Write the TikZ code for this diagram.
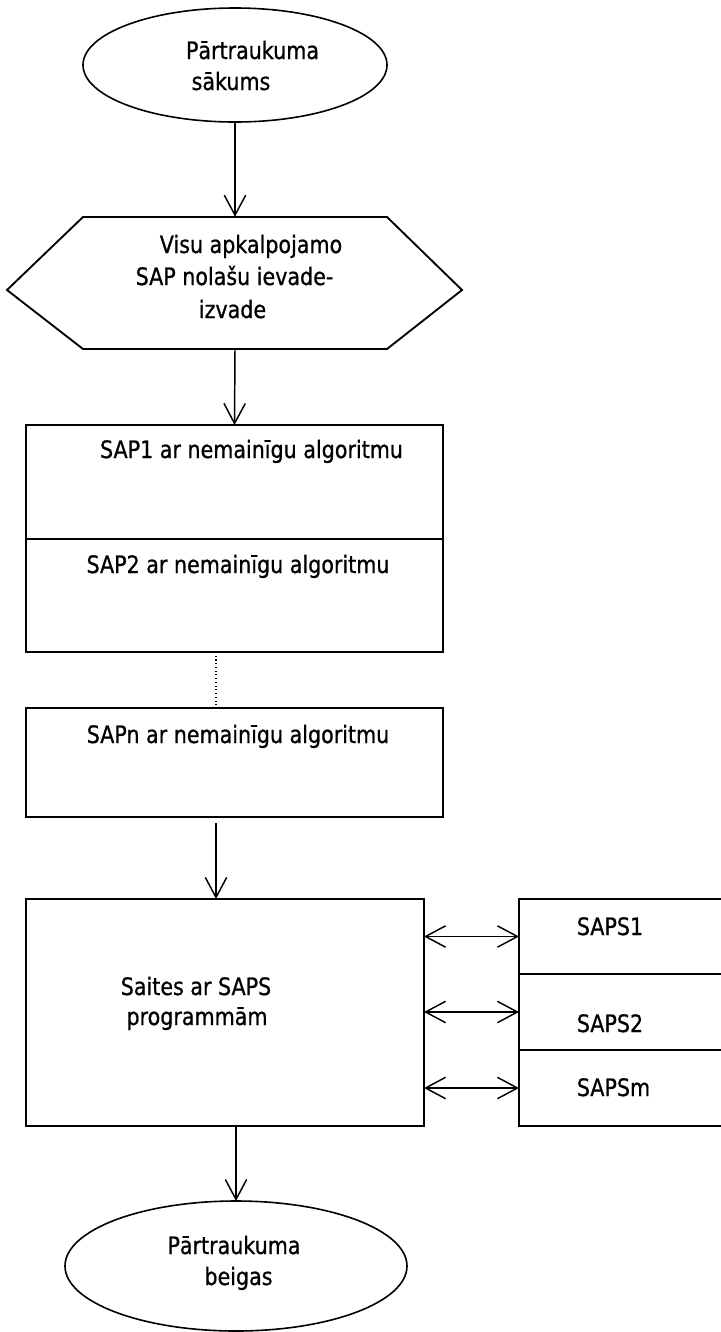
\documentclass[tikz,border=0pt]{standalone}
\usepackage{fontspec}
\setmainfont{DejaVu Sans}[FakeStretch=0.86,FakeBold=0.8]
\usepackage{tikz}
\usetikzlibrary{arrows.meta,shapes.geometric}

\begin{document}
\begin{tikzpicture}[x=0.75pt,y=-0.75pt,
  >={Straight Barb[length=15pt,width=16pt]},
  blok/.style 2 args={draw,line width=1.4pt,inner sep=0pt,outer sep=0pt,
    minimum width=#1*0.75pt,minimum height=#2*0.75pt},
  ovals/.style 2 args={blok={#1}{#2},ellipse,line width=1.2pt},
  txt/.style={anchor=base,inner sep=0pt,font=\fontsize{18pt}{23pt}\selectfont},
  bulta/.style={->,line width=1.1pt}]
\clip (0,0) rectangle (721,1332);
% start and end
\node[ovals={304}{114}] (start) at (235,65) {};
\node[ovals={342}{130}] (beigas) at (236,1266) {};
% input-output hexagon
\draw[line width=1.4pt] (83,217)--(387,217)--(462,290)--(387,349)--(83,349)--(7,290)--cycle;
\node[minimum width=455*0.75pt,minimum height=132*0.75pt,inner sep=0pt] (io) at (235,283) {};
% SAP blocks
\node[blok={417}{114}] (sap1) at (234.5,482) {};
\node[blok={417}{113}] (sap2) at (234.5,595.5) {};
\node[blok={417}{109}] (sapn) at (234.5,762.5) {};
\node[blok={398}{227}] (saites) at (225,1012.5) {};
\node[blok={212}{75}] (saps1) at (625,936.5) {};
\node[blok={212}{76}] (saps2) at (625,1012) {};
\node[blok={212}{76}] (sapsm) at (625,1088) {};
\coordinate (kol) at (216,0);
% connectors
\draw[bulta] (start.south)--(io.north);
\draw[bulta] (io.south)--(sap1.north);
\draw[dotted,line width=0.8pt] (sap2.south -| kol)--(sapn.north -| kol);
\draw[bulta,shorten <=4.5pt] (sapn.south -| kol)--(saites.north -| kol);
\draw[bulta] (saites.south -| beigas)--(beigas.north);
\foreach \s in {saps1,saps2,sapsm}
  \draw[<->,line width=1.1pt] (\s.west -| saites.east)--(\s.west);
% texts
\node[txt] (t1) at (252.5,59) {Pārtraukuma};
\node[txt] (t2) at (231,90) {sākums};
\node[txt] (t3) at (251,253) {Visu apkalpojamo};
\node[txt] (t4) at (234.5,285) {SAP nolašu ievade-};
\node[txt] (t5) at (232.5,318) {izvade};
\node[txt] (t6) at (251.5,458) {SAP1 ar nemainīgu algoritmu};
\node[txt] (t7) at (238,573) {SAP2 ar nemainīgu algoritmu};
\node[txt] (t8) at (238,743) {SAPn ar nemainīgu algoritmu};
\node[txt] (t9) at (196,995) {Saites ar SAPS};
\node[txt] (t10) at (197,1025) {programmām};
\node[txt] (t11) at (610,935) {SAPS1};
\node[txt] (t12) at (610,1032) {SAPS2};
\node[txt] (t13) at (613.5,1096) {SAPSm};
\node[txt] (t14) at (234,1254) {Pārtraukuma};
\node[txt] (t15) at (238.5,1285) {beigas};
\end{tikzpicture}
\end{document}
